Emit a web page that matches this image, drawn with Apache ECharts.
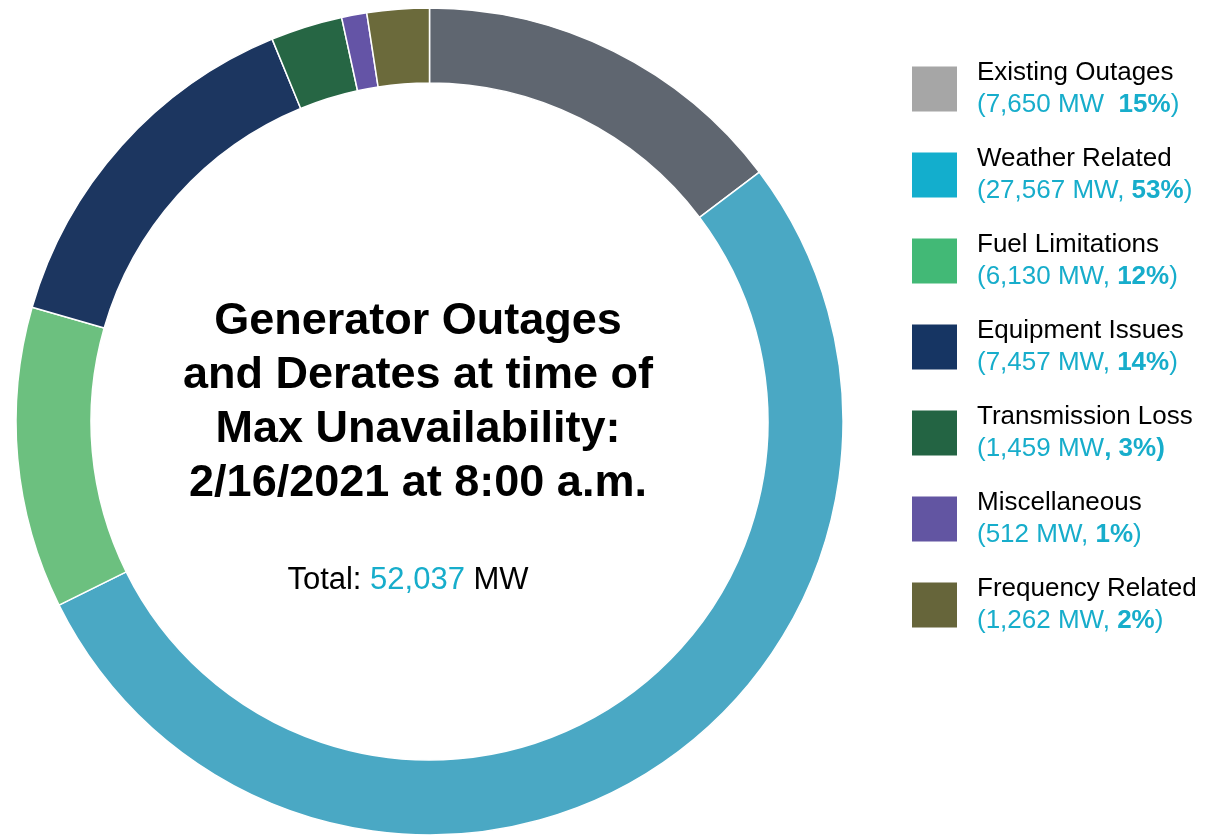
<!DOCTYPE html>
<html>
<head>
<meta charset="utf-8">
<script src="https://cdn.jsdelivr.net/npm/echarts@6/dist/echarts.min.js"></script>
<style>
html,body{margin:0;padding:0;background:#fff;}
#chart{width:1217px;height:837px;}
</style>
</head>
<body>
<div id="chart"></div>
<script>
const categories = ['Existing Outages','Weather Related','Fuel Limitations','Equipment Issues','Transmission Loss','Miscellaneous','Frequency Related'];
const valuesMW = [7650, 27567, 6130, 7457, 1459, 512, 1262];
const pctLabels = ['15%','53%','12%','14%','3%','1%','2%'];
const totalMW = 52037;
const titleLines = ['Generator Outages','and Derates at time of','Max Unavailability:','2/16/2021 at 8:00 a.m.'];

const pieColors = ['#5f6670','#4aa8c4','#6cc07f','#1c3660','#266644','#6454a6','#6b6a3b'];
const legendColors = ['#a6a6a6','#13aecd','#42b976','#163563','#236443','#6255a2','#66653a'];
const cyan = '#17adcb';
const FONT = '"Liberation Sans", Arial, sans-serif';

const chart = echarts.init(document.getElementById('chart'), null, {renderer:'canvas'});

function fmt(n){ return n.toLocaleString('en-US'); }

const legendText = {};
categories.forEach((c,i)=>{
  let line2;
  if (i === 0) line2 = '{v|(' + fmt(valuesMW[i]) + ' MW  }{b|' + pctLabels[i] + '}{v|)}';
  else if (i === 4) line2 = '{v|(' + fmt(valuesMW[i]) + ' MW}{b|, ' + pctLabels[i] + ')}';
  else line2 = '{v|(' + fmt(valuesMW[i]) + ' MW, }{b|' + pctLabels[i] + '}{v|)}';
  legendText[c] = '{n|' + c + '}\n' + line2;
});

const option = {
  animation: false,
  backgroundColor: '#ffffff',
  legend: {
    orient: 'vertical',
    left: 912,
    top: 57,
    padding: 0,
    itemWidth: 45,
    itemHeight: 45,
    itemGap: 22,
    icon: 'rect',
    selectedMode: false,
    itemStyle: { borderWidth: 0 },
    data: categories.map((c,i)=>({name:c, itemStyle:{color:legendColors[i], borderWidth:0}})),
    formatter: name => legendText[name],
    textStyle: {
      fontFamily: FONT,
      fontSize: 26,
      color: '#000',
      lineHeight: 32,
      padding: [0,0,0,15],
      rich: {
        n: {fontFamily: FONT, fontSize: 26, color:'#000', lineHeight: 32},
        v: {fontFamily: FONT, fontSize: 26, color: cyan, lineHeight: 32},
        b: {fontFamily: FONT, fontSize: 26, color: cyan, fontWeight: 'bold', lineHeight: 32}
      }
    }
  },
  graphic: [
    {
      type: 'text',
      x: 418,
      y: 403,
      silent: true,
      style: {
        text: titleLines.join('\n'),
        font: 'bold 45px ' + FONT,
        fill: '#000',
        textAlign: 'center',
        textVerticalAlign: 'middle',
        lineHeight: 54
      }
    },
    {
      type: 'text',
      x: 408,
      y: 580,
      silent: true,
      style: {
        text: '{a|Total: }{c|' + fmt(totalMW) + '}{a| MW}',
        textAlign: 'center',
        textVerticalAlign: 'middle',
        rich: {
          a: {fontFamily: FONT, fontSize: 31, fill: '#000', color:'#000'},
          c: {fontFamily: FONT, fontSize: 31, fill: cyan, color: cyan}
        }
      }
    }
  ],
  series: [{
    type: 'pie',
    center: [429.5, 421.5],
    radius: [338.5, 413.5],
    startAngle: 90,
    clockwise: true,
    avoidLabelOverlap: false,
    label: {show: false},
    labelLine: {show: false},
    emphasis: {disabled: true},
    itemStyle: {borderColor: '#ffffff', borderWidth: 1.5},
    data: categories.map((c,i)=>({name:c, value:valuesMW[i], itemStyle:{color:pieColors[i]}}))
  }]
};
chart.setOption(option);
</script>
</body>
</html>
